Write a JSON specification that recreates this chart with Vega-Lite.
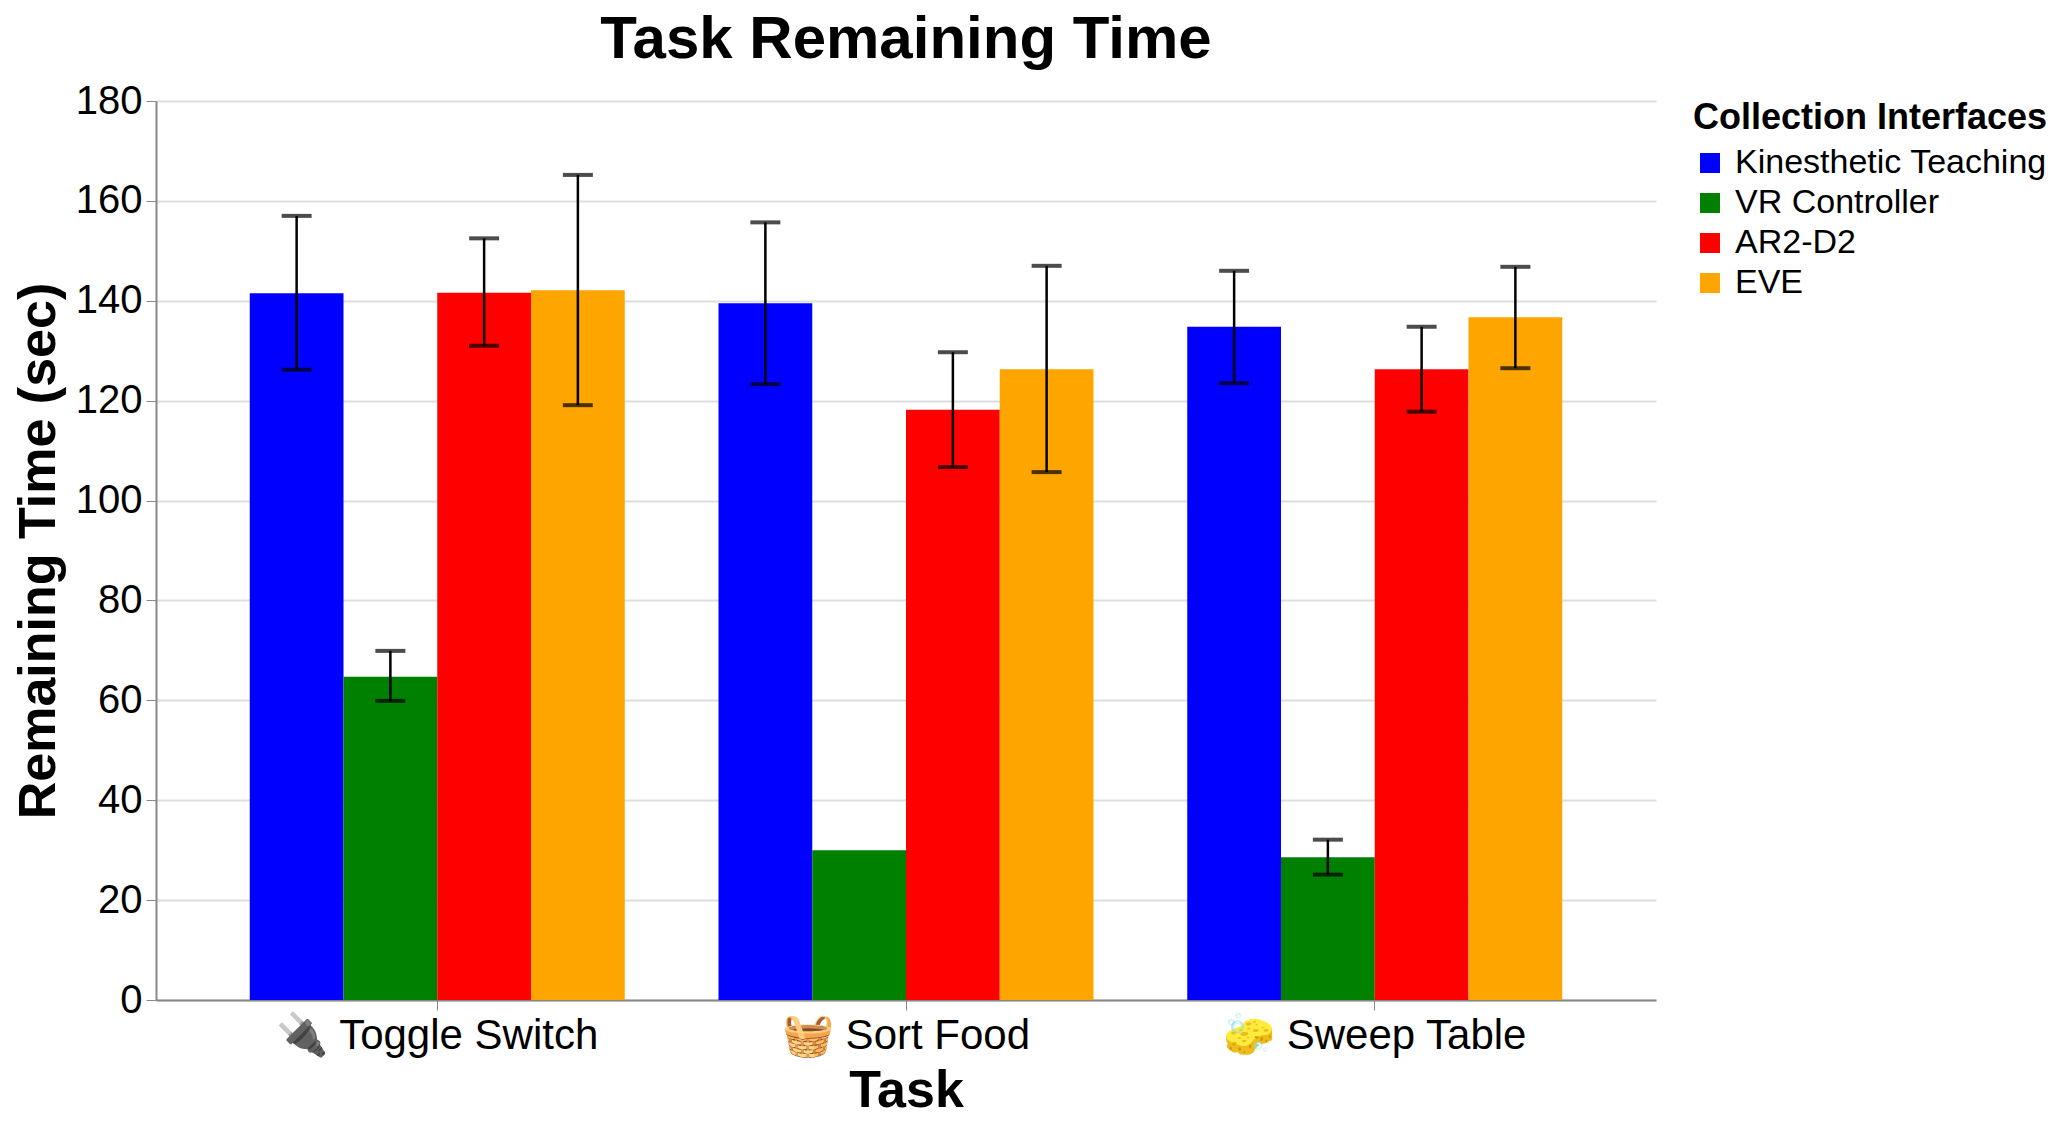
{"$schema":"https://vega.github.io/schema/vega-lite/v6.json","autosize":{"type":"none"},"padding":{"left":156,"top":101,"right":402,"bottom":126},"width":1500,"height":899,"background":"white","title":{"text":"Task Remaining Time","font":"Liberation Sans","fontSize":60,"fontWeight":"bold","color":"black","anchor":"middle","offset":10,"limit":1400},"data":{"values":[
{"task":"🔌 Toggle Switch","iface":"Kinesthetic Teaching","mean":141.5,"lo":126.2,"hi":157},
{"task":"🔌 Toggle Switch","iface":"VR Controller","mean":64.7,"lo":59.9,"hi":69.9},
{"task":"🔌 Toggle Switch","iface":"AR2-D2","mean":141.6,"lo":131,"hi":152.5},
{"task":"🔌 Toggle Switch","iface":"EVE","mean":142.1,"lo":119.1,"hi":165.2},
{"task":"🧺 Sort Food","iface":"Kinesthetic Teaching","mean":139.5,"lo":123.3,"hi":155.7},
{"task":"🧺 Sort Food","iface":"VR Controller","mean":30,"lo":30,"hi":30},
{"task":"🧺 Sort Food","iface":"AR2-D2","mean":118.2,"lo":106.7,"hi":129.7},
{"task":"🧺 Sort Food","iface":"EVE","mean":126.3,"lo":105.7,"hi":147},
{"task":"🧽 Sweep Table","iface":"Kinesthetic Teaching","mean":134.8,"lo":123.5,"hi":146},
{"task":"🧽 Sweep Table","iface":"VR Controller","mean":28.6,"lo":25.1,"hi":32.1},
{"task":"🧽 Sweep Table","iface":"AR2-D2","mean":126.3,"lo":117.8,"hi":134.8},
{"task":"🧽 Sweep Table","iface":"EVE","mean":136.7,"lo":126.5,"hi":146.8}
]},
"config":{"font":"Liberation Sans","view":{"stroke":null}},
"encoding":{"x":{"field":"task","type":"nominal","sort":null,"scale":{"paddingInner":0.2,"paddingOuter":0.2},"axis":{"title":"Task","titleFontSize":52,"titleFontWeight":"bold","titleColor":"black","labelFontSize":42,"labelColor":"black","labelAngle":0,"labelPadding":5,"labelLimit":500,"titlePadding":9,"tickColor":"#888","tickSize":10,"domainColor":"#888","domainWidth":2,"grid":false}},
"xOffset":{"field":"iface","type":"nominal","sort":["Kinesthetic Teaching","VR Controller","AR2-D2","EVE"]}},
"layer":[
{"mark":{"type":"bar"},"encoding":{"y":{"field":"mean","type":"quantitative","scale":{"domain":[0,180]},"axis":{"title":"Remaining Time (sec)","titleFontSize":52,"titleFontWeight":"bold","titleColor":"black","labelFontSize":40,"labelColor":"black","values":[0,20,40,60,80,100,120,140,160,180],"tickColor":"#888","domainColor":"#888","domainWidth":2,"tickSize":10,"labelPadding":4,"gridColor":"#ddd","gridWidth":2,"titlePadding":10}},"color":{"field":"iface","type":"nominal","sort":["Kinesthetic Teaching","VR Controller","AR2-D2","EVE"],"scale":{"domain":["Kinesthetic Teaching","VR Controller","AR2-D2","EVE"],"range":["blue","green","red","orange"]},"legend":{"title":"Collection Interfaces","titleFontSize":36,"titleFontWeight":"bold","titleColor":"black","titleLimit":500,"titlePadding":9,"labelFontSize":34,"labelColor":"black","labelLimit":500,"symbolType":"square","symbolSize":400,"symbolStrokeWidth":0,"symbolOpacity":1,"rowPadding":6,"offset":37,"labelOffset":8}}}},
{"transform":[{"filter":"datum.hi > datum.lo"}],"mark":{"type":"rule","color":"black","strokeWidth":2.5},"encoding":{"y":{"field":"lo","type":"quantitative"},"y2":{"field":"hi"}}},
{"transform":[{"filter":"datum.hi > datum.lo"}],"mark":{"type":"tick","color":"black","opacity":0.7,"thickness":4,"size":30,"orient":"horizontal"},"encoding":{"y":{"field":"lo","type":"quantitative"}}},
{"transform":[{"filter":"datum.hi > datum.lo"}],"mark":{"type":"tick","color":"black","opacity":0.7,"thickness":4,"size":30,"orient":"horizontal"},"encoding":{"y":{"field":"hi","type":"quantitative"}}}
]}
